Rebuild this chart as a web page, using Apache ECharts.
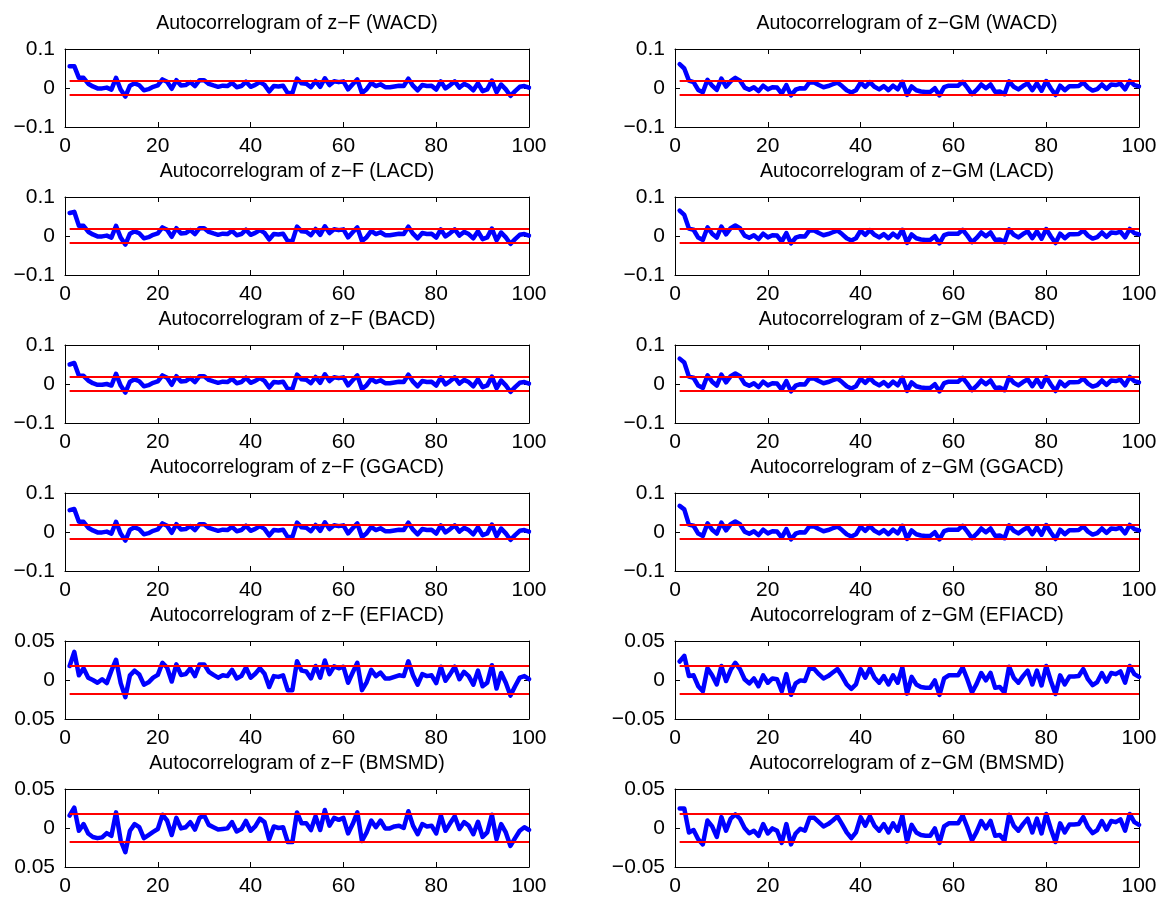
<!DOCTYPE html>
<html>
<head>
<meta charset="utf-8">
<script src="https://cdn.jsdelivr.net/npm/echarts@6/dist/echarts.min.js"></script>
<style>html,body{margin:0;padding:0;background:#fff}#c{width:1167px;height:902px}</style>
</head>
<body>
<div id="c"></div>
<script>
// ---------- DATA ----------
const lags = [1,2,3,4,5,6,7,8,9,10,11,12,13,14,15,16,17,18,19,20,21,22,23,24,25,26,27,28,29,30,
31,32,33,34,35,36,37,38,39,40,41,42,43,44,45,46,47,48,49,50,51,52,53,54,55,56,57,58,59,60,
61,62,63,64,65,66,67,68,69,70,71,72,73,74,75,76,77,78,79,80,81,82,83,84,85,86,87,88,89,90,
91,92,93,94,95,96,97,98,99,100];

const confBand = [-0.018, 0.018];

const xTickLabels = ['0','20','40','60','80','100'];
const yLabelsBig = ['\u22120.1','0','0.1'];
const yLabelsSmallLeft = ['0.05','0','0.05'];
const yLabelsSmallRight = ['\u22120.05','0','0.05'];

const rowNames = ['WACD','LACD','BACD','GGACD','EFIACD','BMSMD'];

// z-F, EFIACD
const zF_EFIACD = [0.018,0.036,0.006,0.015,0.003,0.000,-0.0035,0.001,-0.004,0.012,
0.026,-0.004,-0.022,0.006,0.012,0.007,-0.006,-0.003,0.003,0.0065,
0.022,0.016,-0.002,0.020,0.0065,0.0075,0.015,0.005,0.020,0.020,
0.0105,0.0065,0.003,0.006,0.005,0.013,0.002,0.005,0.016,0.003,
0.008,0.015,0.008,-0.009,0.005,0.004,0.006,-0.013,-0.013,0.024,
0.012,0.011,0.002,0.018,0.003,0.025,0.0075,0.0175,0.015,0.017,
-0.0035,0.0096,0.022,-0.013,-0.003,0.013,0.005,0.0096,0.002,0.002,
0.004,0.006,0.005,0.024,0.006,-0.006,0.0075,0.005,0.006,-0.004,
0.017,-0.001,0.0075,0.017,0.001,0.0105,0.005,-0.006,0.012,-0.008,
-0.0035,0.019,-0.011,0.009,-0.0035,-0.020,-0.008,0.003,0.005,0.001];

// z-F, BMSMD
const zF_BMSMD = [0.016,0.026,-0.0035,0.005,-0.007,-0.0115,-0.013,-0.012,-0.0066,-0.010,
0.020,-0.016,-0.031,-0.0035,0.005,0.001,-0.013,-0.009,-0.005,-0.0013,
0.017,0.0096,-0.009,0.013,-0.0005,0.001,0.0075,-0.002,0.013,0.016,
0.004,0.001,-0.002,-0.0013,-0.0005,0.0075,-0.0044,-0.0013,0.009,-0.0035,
0.002,0.012,0.0075,-0.0145,0.002,0.000,0.001,-0.018,-0.018,0.020,
0.006,0.006,-0.0026,0.015,-0.0026,0.023,0.003,0.013,0.0105,0.013,
-0.007,0.005,0.020,-0.0167,-0.0057,0.0096,0.001,0.0096,-0.0005,-0.0005,
0.002,0.003,0.000,0.0215,0.003,-0.008,0.005,0.002,0.003,-0.007,
0.016,-0.0035,0.006,0.015,-0.0013,0.0075,0.003,-0.008,0.008,-0.0115,
-0.0057,0.017,-0.0145,0.005,-0.0057,-0.023,-0.013,-0.0035,0.001,-0.0025];

// z-GM, EFIACD
const zGM_EFIACD = [0.0237,0.031,0.005,0.006,-0.008,-0.0145,0.015,0.006,-0.0057,0.018,
-0.0013,0.013,0.022,0.014,0.001,-0.0044,0.002,-0.008,0.006,-0.0035,
0.002,0.001,-0.0145,0.0075,-0.019,-0.0044,-0.0005,-0.0013,0.015,0.014,
0.0075,0.002,0.005,0.0096,0.014,0.005,-0.0057,-0.0114,-0.0057,0.014,
0.003,0.015,0.003,-0.0035,0.005,-0.0057,0.006,-0.0035,0.016,-0.0175,
0.004,-0.0057,-0.009,-0.010,-0.010,-0.0005,-0.019,0.002,0.006,0.006,
0.006,0.016,0.001,-0.016,-0.005,0.009,-0.0005,0.009,-0.010,-0.009,
-0.016,0.017,0.003,-0.0035,0.005,0.012,-0.0057,0.012,-0.007,0.018,
-0.0013,-0.018,0.006,-0.0057,0.0044,0.0044,0.005,0.014,0.001,-0.0066,
-0.0026,0.009,-0.002,0.009,0.0075,0.011,-0.0035,0.018,0.0075,0.004];

// z-GM, BMSMD
const zGM_BMSMD = [0.025,0.025,-0.0057,-0.0026,-0.0145,-0.021,0.0096,0.002,-0.0114,0.014,
-0.0035,0.012,0.0175,0.012,0.000,-0.0066,-0.0035,-0.010,0.005,-0.007,
-0.0005,-0.0035,-0.019,0.005,-0.021,-0.007,-0.001,-0.0035,0.013,0.013,
0.0075,0.002,0.005,0.0096,0.015,0.005,-0.0057,-0.013,-0.0057,0.014,
0.003,0.015,0.003,-0.0035,0.005,-0.0057,0.006,-0.0035,0.016,-0.0175,
0.004,-0.0057,-0.009,-0.010,-0.010,-0.0005,-0.019,0.002,0.006,0.006,
0.006,0.016,0.001,-0.016,-0.005,0.009,-0.0005,0.009,-0.010,-0.009,
-0.016,0.017,0.003,-0.0035,0.005,0.012,-0.0057,0.012,-0.007,0.018,
-0.0013,-0.018,0.006,-0.0057,0.0044,0.0044,0.005,0.014,0.001,-0.0066,
-0.0026,0.009,-0.002,0.009,0.0075,0.011,-0.0035,0.018,0.0075,0.004];

// first lags of the four ACD-type models (rest of the lags follow the EFIACD series)
const zF_WACD_head  = [0.056,0.056,0.026,0.026,0.011,0.004,-0.001,-0.001,0.001,-0.004];
const zF_LACD_head  = [0.059,0.062,0.026,0.026,0.011,0.004,-0.001,-0.001,0.001,-0.004];
const zF_BACD_head  = [0.050,0.054,0.021,0.021,0.009,0.002,-0.002,-0.002,0.000,-0.004];
const zF_GGACD_head = [0.056,0.059,0.026,0.026,0.011,0.004,-0.001,-0.001,0.001,-0.004];

const zGM_WACD_head  = [0.061,0.050,0.019,0.015,-0.005,-0.011,0.021,0.006,-0.005,0.024,0.0035,0.0175,0.026,0.019];
const zGM_LACD_head  = [0.065,0.054,0.019,0.016,-0.004,-0.010,0.022,0.006,-0.004,0.024,0.004,0.020,0.027,0.020];
const zGM_BACD_head  = [0.065,0.055,0.019,0.016,-0.004,-0.010,0.022,0.006,-0.004,0.024,0.004,0.020,0.027,0.020];
const zGM_GGACD_head = [0.067,0.058,0.019,0.016,-0.004,-0.010,0.022,0.006,-0.004,0.024,0.004,0.020,0.027,0.020];

// ---------- build panels ----------
function withHead(head, base){ return head.concat(base.slice(head.length)); }

const leftSeries = [
  withHead(zF_WACD_head, zF_EFIACD),
  withHead(zF_LACD_head, zF_EFIACD),
  withHead(zF_BACD_head, zF_EFIACD),
  withHead(zF_GGACD_head, zF_EFIACD),
  zF_EFIACD,
  zF_BMSMD
];
const rightSeries = [
  withHead(zGM_WACD_head, zGM_EFIACD),
  withHead(zGM_LACD_head, zGM_EFIACD),
  withHead(zGM_BACD_head, zGM_EFIACD),
  withHead(zGM_GGACD_head, zGM_EFIACD),
  zGM_EFIACD,
  zGM_BMSMD
];

const FONT = 'Liberation Sans, Arial, Helvetica, sans-serif';
const gridLeft = [65, 675];
const gridW = 464;
const gridTop0 = 49;
const rowStep = 148;
const gridH = 78;

const grids = [], xAxes = [], yAxes = [], series = [], titles = [];
let idx = 0;
for (let row = 0; row < 6; row++) {
  for (let col = 0; col < 2; col++) {
    const left = gridLeft[col];
    const top = gridTop0 + row * rowStep;
    const big = row < 4;
    const yMin = big ? -0.1 : -0.05, yMax = big ? 0.1 : 0.05, yInt = big ? 0.1 : 0.05;
    const yLabels = big ? yLabelsBig : (col === 0 ? yLabelsSmallLeft : yLabelsSmallRight);
    const vals = col === 0 ? leftSeries[row] : rightSeries[row];
    const title = 'Autocorrelogram of z\u2212' + (col === 0 ? 'F' : 'GM') + ' (' + rowNames[row] + ')';

    grids.push({left: left, top: top, width: gridW, height: gridH, containLabel: false});
    titles.push({
      text: title, left: left + gridW / 2, top: top - 35, textAlign: 'center', padding: 0,
      textStyle: {fontFamily: FONT, fontSize: 19.5, fontWeight: 'normal', color: '#000'}
    });
    const axLine = {show: true, onZero: false, lineStyle: {color: '#000', width: 1}};
    const tick = {show: true, inside: true, length: 5, lineStyle: {color: '#000', width: 1}};
    const xb = xAxes.length;
    xAxes.push({
      type: 'value', gridIndex: idx, position: 'bottom', min: 0, max: 100, interval: 20,
      axisLine: axLine, axisTick: tick, splitLine: {show: false},
      axisLabel: {fontFamily: FONT, fontSize: 21, color: '#000', margin: 9,
        formatter: function (v) { return xTickLabels[Math.round(v / 20)]; }}
    });
    xAxes.push({
      type: 'value', gridIndex: idx, position: 'top', min: 0, max: 100, interval: 20,
      axisLine: axLine, axisTick: tick, splitLine: {show: false}, axisLabel: {show: false}
    });
    const yl = yAxes.length;
    yAxes.push({
      type: 'value', gridIndex: idx, position: 'left', min: yMin, max: yMax, interval: yInt,
      axisLine: axLine, axisTick: tick, splitLine: {show: false},
      axisLabel: {fontFamily: FONT, fontSize: 21, color: '#000', margin: 10,
        formatter: function (v) { return yLabels[Math.round((v - yMin) / yInt)]; }}
    });
    yAxes.push({
      type: 'value', gridIndex: idx, position: 'right', min: yMin, max: yMax, interval: yInt,
      axisLine: axLine, axisTick: tick, splitLine: {show: false}, axisLabel: {show: false}
    });
    series.push({
      type: 'line', xAxisIndex: xb, yAxisIndex: yl, showSymbol: false, symbol: 'none',
      data: vals.map(function (v, k) { return [lags[k], v]; }),
      lineStyle: {color: '#0000ff', width: 4.5, join: 'round', cap: 'round'}, z: 2, silent: true
    });
    confBand.forEach(function (c) {
      series.push({
        type: 'line', xAxisIndex: xb, yAxisIndex: yl, showSymbol: false, symbol: 'none',
        data: [[lags[0], c], [lags[lags.length - 1], c]],
        lineStyle: {color: '#ff0000', width: 2}, z: 3, silent: true
      });
    });
    idx++;
  }
}

const chart = echarts.init(document.getElementById('c'), null, {renderer: 'canvas'});
chart.setOption({
  animation: false,
  backgroundColor: '#fff',
  title: titles,
  grid: grids,
  xAxis: xAxes,
  yAxis: yAxes,
  series: series
});
</script>
</body>
</html>
